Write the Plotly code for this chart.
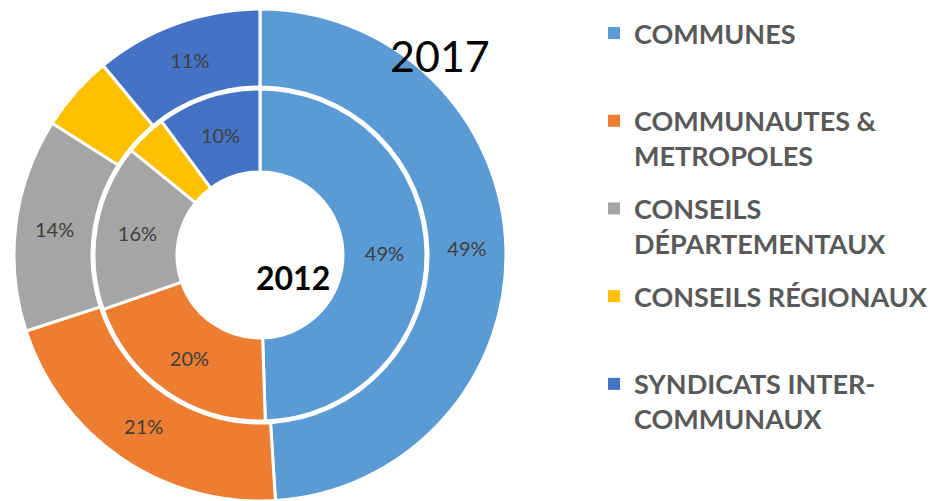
import plotly.graph_objects as go

categories = ["COMMUNES", "COMMUNAUTES &<br>METROPOLES", "CONSEILS<br>DÉPARTEMENTAUX",
              "CONSEILS RÉGIONAUX", "SYNDICATS INTER-<br>COMMUNAUX"]
values_2017 = [49, 21, 14, 5, 11]
values_2012 = [49, 20, 16, 4, 10]
show_2017 = [True, True, True, False, True]
show_2012 = [True, True, True, False, True]
colors = ["#5B9BD5", "#ED7D31", "#A5A5A5", "#FFC000", "#4472C4"]

W, H = 934, 501
cx, cy = 260, 255
r_out, r_in = 246, 166

def dom(r):
    return dict(x=[(cx - r) / W, (cx + r) / W],
                y=[(H - cy - r) / H, (H - cy + r) / H])

def texts(vals, show):
    tot = sum(vals)
    return [f"{round(v / tot * 100)}%" if s else "" for v, s in zip(vals, show)]

fig = go.Figure()
fig.add_trace(go.Pie(
    labels=categories, values=values_2017, sort=False, direction="clockwise",
    rotation=0, hole=168 / 246, domain=dom(r_out),
    marker=dict(colors=colors, line=dict(color="white", width=3)),
    text=texts(values_2017, show_2017), textinfo="text", textposition="inside",
    insidetextorientation="horizontal",
    textfont=dict(family="Lato", size=20, color="#404040"), name="2017", showlegend=False))
fig.add_trace(go.Pie(
    labels=categories, values=values_2012, sort=False, direction="clockwise",
    rotation=0, hole=83 / 166, domain=dom(r_in),
    marker=dict(colors=colors, line=dict(color="white", width=3)),
    text=texts(values_2012, show_2012), textinfo="text", textposition="inside",
    insidetextorientation="horizontal",
    textfont=dict(family="Lato", size=20, color="#404040"), name="2012", showlegend=False))

# legend entries (one group each so the gap between them can be set)
for lab, col in zip(categories, colors):
    name = lab if "<br>" in lab else lab + "<br> "
    fig.add_trace(go.Scatter(x=[None], y=[None], mode="markers", name=name,
                             legendgroup=lab, hoverinfo="skip",
                             marker=dict(symbol="square", size=12, color=col)))

fig.add_annotation(text="2017", x=440 / W, y=1 - 56 / H, xref="paper", yref="paper",
                   xanchor="center", yanchor="middle",
                   showarrow=False, font=dict(family="Lato", size=43, color="black"))
fig.add_annotation(text="<b>2012</b>", x=293 / W, y=1 - 277 / H, xref="paper", yref="paper",
                   xanchor="center", yanchor="middle",
                   showarrow=False, font=dict(family="Lato", size=32, color="black"))

fig.update_layout(
    width=W, height=H, margin=dict(l=0, r=0, t=0, b=0),
    paper_bgcolor="white", plot_bgcolor="white",
    xaxis=dict(visible=False), yaxis=dict(visible=False),
    legend=dict(x=594 / W, y=1 - 9 / H, xanchor="left", yanchor="top",
                font=dict(family="Lato", size=27, color="#595959", weight="bold"),
                valign="top", traceorder="grouped", tracegroupgap=14.5,
                itemsizing="constant"),
)
fig.write_html("out.html", config={"displayModeBar": False},
               post_script="document.body.style.margin='0';")
